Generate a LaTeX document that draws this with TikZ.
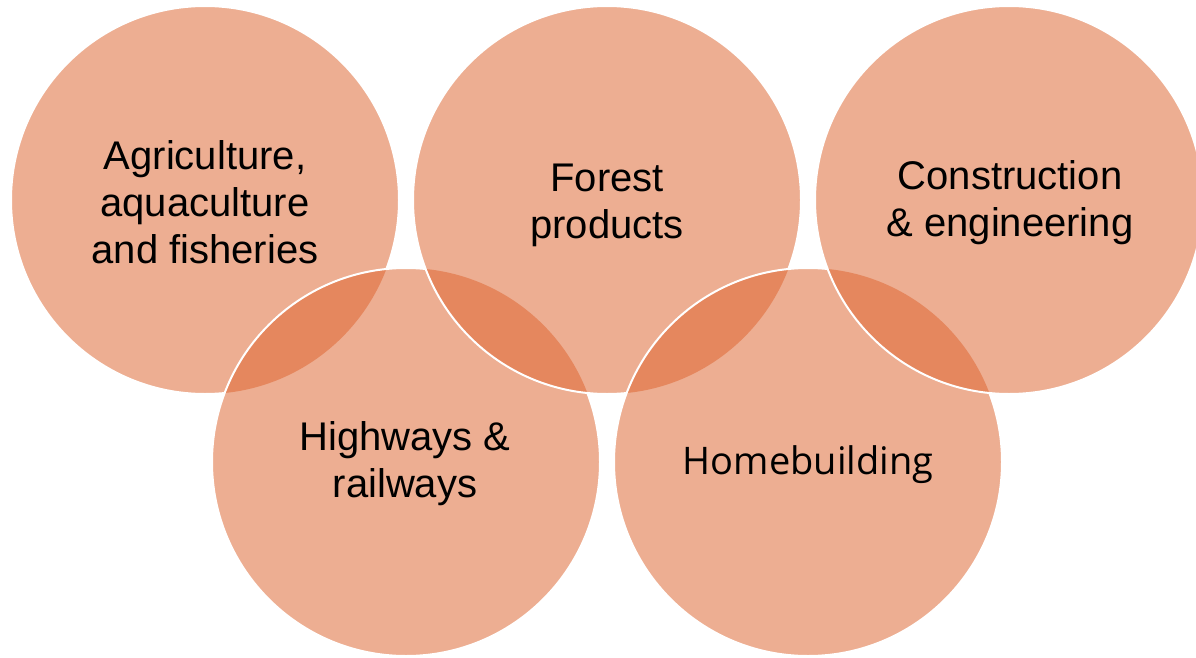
\documentclass[tikz,border=0pt]{standalone}
\usepackage{fontspec}
\setmainfont{Liberation Sans}
\newfontfamily\homefont{Open Sans}
\definecolor{ringfill}{RGB}{237,174,146}
\definecolor{ringlens}{RGB}{229,135,94}

\begin{document}
\begin{tikzpicture}[x=1pt,y=-1pt,
  lite/.style={fill=ringfill},
  lens/.style={fill=ringlens},
  rim/.style={draw=white,line width=2},
  ringtext/.style={align=center,font=\fontsize{40}{47}\selectfont}]
\useasboundingbox (0,0) rectangle (1196,658);
\clip (0,0) rectangle (1196,658);
\def\rr{194}
%centres
\coordinate (agri) at (205,200);
\coordinate (forest) at (607,200);
\coordinate (constr) at (1009,200);
\coordinate (high) at (406,462);
\coordinate (home) at (808,462);
%circles, zigzag order, darker where two meet
\fill [lite] (agri) circle [radius=\rr];
\draw [rim] (agri) circle [radius=\rr];
\foreach \new/\old in {high/agri, forest/high, home/forest, constr/home}{
  \fill [lite] (\new) circle [radius=\rr];
  \begin{scope}
    \clip (\new) circle [radius=\rr];
    \fill [lens] (\old) circle [radius=\rr];
  \end{scope}
  \draw [rim] (\new) circle [radius=\rr];
}
%text
\node [ringtext] (agriTxt) at (205,202) {Agriculture,\\aquaculture\\and fisheries};
\node [ringtext] (forestTxt) at (607,205) {Forest\\products};
\node [ringtext] (constrTxt) at (1010,203) {Construction\\\& engineering};
\node [ringtext] (highTxt) at (405,464) {Highways \&\\railways};
\node [font=\homefont\fontsize{38}{46}\selectfont] (homeTxt) at (808,465) {Homebuilding};
\end{tikzpicture}
\end{document}
